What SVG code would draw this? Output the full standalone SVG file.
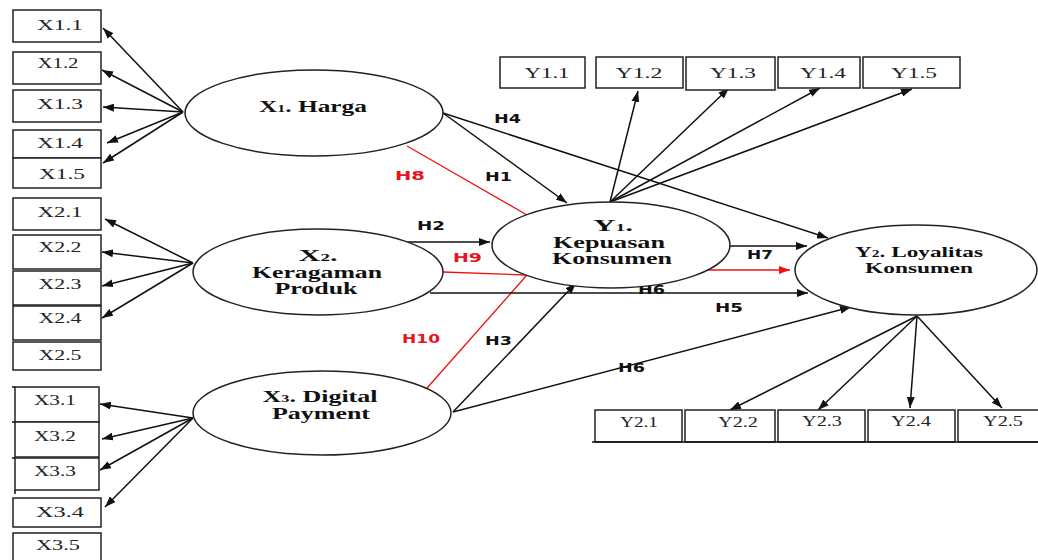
<svg xmlns="http://www.w3.org/2000/svg" width="1038" height="560" viewBox="0 0 1038 560">
<style>
.bx{fill:#fff;stroke:#222;stroke-width:1.5}
.bt{font-family:"Liberation Serif",serif;font-size:15px;fill:#222;text-anchor:middle}
.el{fill:#fff;stroke:#222;stroke-width:1.5}
.lt{font-family:"Liberation Serif",serif;font-size:16px;font-weight:bold;fill:#111;text-anchor:middle}
.sub{font-size:10px}
.ln{stroke:#111;stroke-width:1.5;fill:none}
.rl{stroke:#f01010;stroke-width:1.3;fill:none}
.hl{font-family:"DejaVu Sans",sans-serif;font-size:12px;font-weight:bold;fill:#111}
.hr{font-family:"DejaVu Sans",sans-serif;font-size:12px;font-weight:bold;fill:#e8141c}
</style>
<defs>
<marker id="ah" viewBox="0 0 11 8" refX="11" refY="4" markerWidth="11" markerHeight="8" markerUnits="userSpaceOnUse" orient="auto"><path d="M0,0 L11,4 L0,8 z" fill="#111"/></marker>
<marker id="ahr" viewBox="0 0 11 8" refX="11" refY="4" markerWidth="11" markerHeight="8" markerUnits="userSpaceOnUse" orient="auto"><path d="M0,0 L11,4 L0,8 z" fill="#f01010"/></marker>
</defs>
<rect width="1038" height="560" fill="#fff"/>

<g id="connectors">
<line class="ln" x1="183" y1="112" x2="103" y2="28" marker-end="url(#ah)"/>
<line class="ln" x1="183" y1="112" x2="102" y2="70" marker-end="url(#ah)"/>
<line class="ln" x1="183" y1="112" x2="103" y2="107" marker-end="url(#ah)"/>
<line class="ln" x1="183" y1="112" x2="107" y2="143" marker-end="url(#ah)"/>
<line class="ln" x1="183" y1="112" x2="103" y2="163" marker-end="url(#ah)"/>
<line class="ln" x1="193" y1="263" x2="105" y2="219" marker-end="url(#ah)"/>
<line class="ln" x1="193" y1="263" x2="102" y2="252" marker-end="url(#ah)"/>
<line class="ln" x1="193" y1="263" x2="102" y2="286" marker-end="url(#ah)"/>
<line class="ln" x1="193" y1="263" x2="102" y2="318" marker-end="url(#ah)"/>
<line class="ln" x1="193" y1="418" x2="100" y2="404" marker-end="url(#ah)"/>
<line class="ln" x1="193" y1="418" x2="102" y2="439" marker-end="url(#ah)"/>
<line class="ln" x1="193" y1="418" x2="100" y2="470" marker-end="url(#ah)"/>
<line class="ln" x1="193" y1="418" x2="105" y2="507" marker-end="url(#ah)"/>
<line class="ln" x1="610" y1="202" x2="638" y2="91" marker-end="url(#ah)"/>
<line class="ln" x1="610" y1="202" x2="729" y2="88" marker-end="url(#ah)"/>
<line class="ln" x1="610" y1="202" x2="820" y2="88" marker-end="url(#ah)"/>
<line class="ln" x1="610" y1="202" x2="912" y2="89" marker-end="url(#ah)"/>
<line class="ln" x1="917" y1="316" x2="730" y2="410" marker-end="url(#ah)"/>
<line class="ln" x1="917" y1="316" x2="818" y2="410" marker-end="url(#ah)"/>
<line class="ln" x1="917" y1="316" x2="910" y2="408" marker-end="url(#ah)"/>
<line class="ln" x1="917" y1="316" x2="1002" y2="408" marker-end="url(#ah)"/>
<line class="ln" x1="443" y1="113" x2="567" y2="203" marker-end="url(#ah)"/>
<line class="ln" x1="443" y1="113" x2="828" y2="238" marker-end="url(#ah)"/>
<line class="rl" x1="407" y1="146" x2="527" y2="215"/>
<line class="ln" x1="405" y1="242" x2="490" y2="242" marker-end="url(#ah)"/>
<line class="rl" x1="443" y1="272" x2="527" y2="275"/>
<line class="rl" x1="427" y1="388" x2="527" y2="275"/>
<line class="ln" x1="453" y1="412" x2="576" y2="283" marker-end="url(#ah)"/>
<line class="ln" x1="430" y1="293" x2="808" y2="293" marker-end="url(#ah)"/>
<line class="ln" x1="730" y1="246" x2="807" y2="246" marker-end="url(#ah)"/>
<line class="rl" x1="693" y1="270" x2="790" y2="270" marker-end="url(#ahr)"/>
<line class="ln" x1="453" y1="412" x2="851" y2="307" marker-end="url(#ah)"/>
</g>

<g id="hlabels">
<text class="hl" x="485" y="181" textLength="27" lengthAdjust="spacingAndGlyphs">H1</text>
<text class="hl" x="494" y="123" textLength="27" lengthAdjust="spacingAndGlyphs">H4</text>
<text class="hr" x="395" y="180" textLength="30" lengthAdjust="spacingAndGlyphs">H8</text>
<text class="hl" x="417" y="230" textLength="28" lengthAdjust="spacingAndGlyphs">H2</text>
<text class="hr" x="453" y="262" textLength="29" lengthAdjust="spacingAndGlyphs">H9</text>
<text class="hl" x="747" y="259" textLength="26" lengthAdjust="spacingAndGlyphs">H7</text>
<text class="hl" x="638" y="294" textLength="27" lengthAdjust="spacingAndGlyphs">H6</text>
<text class="hl" x="715" y="312" textLength="28" lengthAdjust="spacingAndGlyphs">H5</text>
<text class="hr" x="402" y="343" textLength="38" lengthAdjust="spacingAndGlyphs">H10</text>
<text class="hl" x="485" y="345" textLength="27" lengthAdjust="spacingAndGlyphs">H3</text>
<text class="hl" x="618" y="372" textLength="27" lengthAdjust="spacingAndGlyphs">H6</text>
</g>

<g id="X1">
<ellipse class="el" cx="314" cy="113" rx="129" ry="43"/>
<text class="lt" x="313" y="112" textLength="108" lengthAdjust="spacingAndGlyphs">X<tspan class="sub">1</tspan>. Harga</text>
</g>
<g id="X2">
<ellipse class="el" cx="318" cy="272" rx="125" ry="43"/>
<text class="lt"><tspan x="318" y="261" textLength="39" lengthAdjust="spacingAndGlyphs">X<tspan class="sub">2</tspan>.</tspan><tspan x="317" y="278" textLength="130" lengthAdjust="spacingAndGlyphs">Keragaman</tspan><tspan x="316" y="294" textLength="83" lengthAdjust="spacingAndGlyphs">Produk</tspan></text>
</g>
<g id="X3">
<ellipse class="el" cx="322" cy="413" rx="129" ry="42"/>
<text class="lt"><tspan x="320" y="402" textLength="115" lengthAdjust="spacingAndGlyphs">X<tspan class="sub">3</tspan>. Digital</tspan><tspan x="321" y="419" textLength="98" lengthAdjust="spacingAndGlyphs">Payment</tspan></text>
</g>
<g id="Y1">
<ellipse class="el" cx="611" cy="245" rx="119" ry="43"/>
<text class="lt"><tspan x="613" y="231" textLength="40" lengthAdjust="spacingAndGlyphs">Y<tspan class="sub">1</tspan>.</tspan><tspan x="609" y="248" textLength="112" lengthAdjust="spacingAndGlyphs">Kepuasan</tspan><tspan x="612" y="264" textLength="120" lengthAdjust="spacingAndGlyphs">Konsumen</tspan></text>
</g>
<g id="Y2">
<ellipse class="el" cx="916" cy="270" rx="121" ry="45"/>
<text class="lt" style="font-size:15px"><tspan x="919" y="257" textLength="128" lengthAdjust="spacingAndGlyphs">Y<tspan class="sub">2</tspan>. Loyalitas</tspan><tspan x="919" y="273" textLength="108" lengthAdjust="spacingAndGlyphs">Konsumen</tspan></text>
</g>

<g id="X1-indicators">
<rect class="bx" x="13" y="10" width="88" height="32"/><text class="bt" x="60" y="30" textLength="46" lengthAdjust="spacingAndGlyphs">X1.1</text>
<rect class="bx" x="13" y="52" width="88" height="32"/><text class="bt" x="58" y="68" textLength="41" lengthAdjust="spacingAndGlyphs">X1.2</text>
<rect class="bx" x="13" y="90" width="88" height="32"/><text class="bt" x="60" y="109" textLength="46" lengthAdjust="spacingAndGlyphs">X1.3</text>
<rect class="bx" x="13" y="130" width="88" height="28"/><text class="bt" x="60" y="148" textLength="46" lengthAdjust="spacingAndGlyphs">X1.4</text>
<rect class="bx" x="13" y="158" width="88" height="30"/><text class="bt" x="62" y="179" textLength="46" lengthAdjust="spacingAndGlyphs">X1.5</text>
</g>
<g id="X2-indicators">
<rect class="bx" x="13" y="198" width="88" height="32"/><text class="bt" x="60" y="217" textLength="45" lengthAdjust="spacingAndGlyphs">X2.1</text>
<rect class="bx" x="13" y="235" width="88" height="34"/><text class="bt" x="60" y="252" textLength="43" lengthAdjust="spacingAndGlyphs">X2.2</text>
<rect class="bx" x="13" y="271" width="88" height="34"/><text class="bt" x="60" y="289" textLength="43" lengthAdjust="spacingAndGlyphs">X2.3</text>
<rect class="bx" x="13" y="306" width="88" height="34"/><text class="bt" x="60" y="323" textLength="43" lengthAdjust="spacingAndGlyphs">X2.4</text>
<rect class="bx" x="13" y="342" width="88" height="28"/><text class="bt" x="60" y="360" textLength="43" lengthAdjust="spacingAndGlyphs">X2.5</text>
</g>
<g id="X3-indicators">
<rect class="bx" x="15" y="387" width="84" height="35"/><text class="bt" x="55" y="405" textLength="42" lengthAdjust="spacingAndGlyphs">X3.1</text>
<rect class="bx" x="15" y="422" width="84" height="35"/><text class="bt" x="55" y="441" textLength="42" lengthAdjust="spacingAndGlyphs">X3.2</text>
<rect class="bx" x="15" y="458" width="84" height="32"/><text class="bt" x="55" y="476" textLength="42" lengthAdjust="spacingAndGlyphs">X3.3</text>
<line class="ln" x1="12" y1="387" x2="15" y2="387"/><line class="ln" x1="12" y1="422" x2="15" y2="422"/><line class="ln" x1="12" y1="458" x2="15" y2="458"/><line class="ln" x1="15" y1="490" x2="15" y2="494"/>
<rect class="bx" x="13" y="498" width="88" height="29"/><text class="bt" x="60" y="517" textLength="48" lengthAdjust="spacingAndGlyphs">X3.4</text>
<rect class="bx" x="13" y="533" width="88" height="30"/><text class="bt" x="58" y="550" textLength="44" lengthAdjust="spacingAndGlyphs">X3.5</text>
</g>
<g id="Y1-indicators">
<rect class="bx" x="500" y="57" width="85" height="31"/><text class="bt" x="547" y="78" textLength="45" lengthAdjust="spacingAndGlyphs">Y1.1</text>
<rect class="bx" x="596" y="57" width="87" height="31"/><text class="bt" x="639" y="78" textLength="47" lengthAdjust="spacingAndGlyphs">Y1.2</text>
<rect class="bx" x="686" y="57" width="89" height="33"/><text class="bt" x="733" y="78" textLength="46" lengthAdjust="spacingAndGlyphs">Y1.3</text>
<rect class="bx" x="778" y="57" width="82" height="31"/><text class="bt" x="823" y="78" textLength="46" lengthAdjust="spacingAndGlyphs">Y1.4</text>
<rect class="bx" x="863" y="57" width="97" height="31"/><text class="bt" x="914" y="78" textLength="46" lengthAdjust="spacingAndGlyphs">Y1.5</text>
</g>
<g id="Y2-indicators">
<rect class="bx" x="595" y="410" width="87" height="32"/><text class="bt" x="639" y="427" textLength="38" lengthAdjust="spacingAndGlyphs">Y2.1</text>
<rect class="bx" x="685" y="410" width="90" height="32"/><text class="bt" x="738" y="427" textLength="40" lengthAdjust="spacingAndGlyphs">Y2.2</text>
<rect class="bx" x="778" y="410" width="87" height="32"/><text class="bt" x="822" y="426" textLength="40" lengthAdjust="spacingAndGlyphs">Y2.3</text>
<rect class="bx" x="868" y="410" width="87" height="32"/><text class="bt" x="911" y="426" textLength="40" lengthAdjust="spacingAndGlyphs">Y2.4</text>
<rect class="bx" x="958" y="410" width="84" height="32"/><text class="bt" x="1003" y="426" textLength="40" lengthAdjust="spacingAndGlyphs">Y2.5</text>
<line class="ln" x1="592" y1="442" x2="1038" y2="442"/>
</g>
</svg>
